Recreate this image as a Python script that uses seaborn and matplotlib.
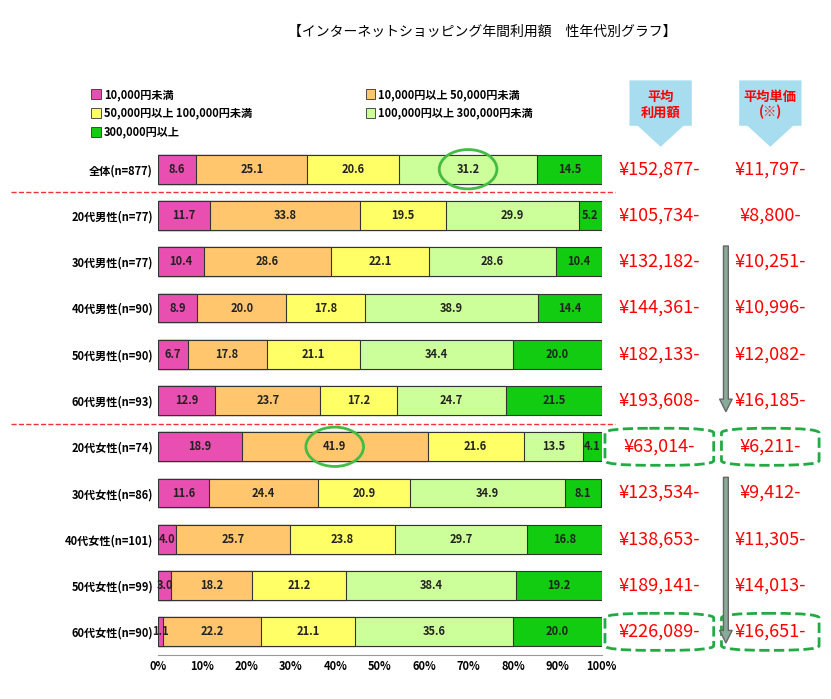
import matplotlib
matplotlib.use("Agg")
import matplotlib.pyplot as plt
import seaborn as sns
import numpy as np
import pandas as pd
from matplotlib.patches import Ellipse, FancyBboxPatch, Polygon

plt.rcParams["font.family"] = "Noto Sans CJK JP"

categories = ["全体(n=877)", "20代男性(n=77)", "30代男性(n=77)", "40代男性(n=90)", "50代男性(n=90)",
              "60代男性(n=93)", "20代女性(n=74)", "30代女性(n=86)", "40代女性(n=101)", "50代女性(n=99)",
              "60代女性(n=90)"]
series_names = ["10,000円未満", "10,000円以上 50,000円未満", "50,000円以上 100,000円未満",
                "100,000円以上 300,000円未満", "300,000円以上"]
s1 = [8.6, 11.7, 10.4, 8.9, 6.7, 12.9, 18.9, 11.6, 4.0, 3.0, 1.1]
s2 = [25.1, 33.8, 28.6, 20.0, 17.8, 23.7, 41.9, 24.4, 25.7, 18.2, 22.2]
s3 = [20.6, 19.5, 22.1, 17.8, 21.1, 17.2, 21.6, 20.9, 23.8, 21.2, 21.1]
s4 = [31.2, 29.9, 28.6, 38.9, 34.4, 24.7, 13.5, 34.9, 29.7, 38.4, 35.6]
s5 = [14.5, 5.2, 10.4, 14.4, 20.0, 21.5, 4.1, 8.1, 16.8, 19.2, 20.0]
avg_amount = ["¥152,877-", "¥105,734-", "¥132,182-", "¥144,361-", "¥182,133-", "¥193,608-",
              "¥63,014-", "¥123,534-", "¥138,653-", "¥189,141-", "¥226,089-"]
avg_price = ["¥11,797-", "¥8,800-", "¥10,251-", "¥10,996-", "¥12,082-", "¥16,185-",
             "¥6,211-", "¥9,412-", "¥11,305-", "¥14,013-", "¥16,651-"]
colors = ["#E84FB0", "#FFC66E", "#FFFF66", "#CCFF99", "#11CC11"]
series = [s1, s2, s3, s4, s5]

fig = plt.figure(figsize=(8.31, 6.99), dpi=100)
ax = fig.add_axes([0.19, 0.063, 0.534, 0.728])

vals = np.array(series)
cum = np.cumsum(vals, axis=0)
for i in range(4, -1, -1):
    df = pd.DataFrame({"cat": categories, "v": cum[i]})
    sns.barplot(data=df, x="v", y="cat", color=colors[i], orient="h", ax=ax,
                edgecolor="#333333", linewidth=0.8, width=0.62, saturation=1, label=series_names[i])

for i in range(5):
    for j in range(len(categories)):
        c = cum[i][j] - vals[i][j] / 2
        ax.text(c, j, f"{vals[i][j]:.1f}", ha="center", va="center", fontsize=8, fontweight="bold", color="#222222")

ax.set_xlim(0, 100)
ax.set_ylim(10.5, -0.5)
ax.set_xticks(range(0, 101, 10))
ax.set_xticklabels([f"{t}%" for t in range(0, 101, 10)], fontsize=8, fontweight="bold")
ax.set_yticks(range(len(categories)))
ax.set_yticklabels(categories, fontsize=8, fontweight="bold")
ax.set_xlabel(""); ax.set_ylabel("")
ax.tick_params(length=0)
for s in ["top", "right", "left"]:
    ax.spines[s].set_visible(False)
ax.spines["bottom"].set_color("#999999")
if ax.get_legend():
    ax.get_legend().remove()

ax.add_patch(Ellipse((cum[3][0] - vals[3][0] / 2, 0), 13, 0.85, fill=False, ec="#44BB44", lw=2, clip_on=False))
ax.add_patch(Ellipse((cum[1][6] - vals[1][6] / 2, 6), 13, 0.85, fill=False, ec="#44BB44", lw=2, clip_on=False))

for y in [0.5, 5.5]:
    ax.plot([-33, 103], [y, y], ls="--", color="#EE3333", lw=1, clip_on=False)

yt = ax.get_yaxis_transform()
for j in range(len(categories)):
    ax.text(1.13, j, avg_amount[j], transform=yt, ha="center", va="center", color="#FF0000", fontsize=13)
    ax.text(1.38, j, avg_price[j], transform=yt, ha="center", va="center", color="#FF0000", fontsize=13)

for j in [6, 10]:
    for xc, w in [(1.13, 0.245), (1.38, 0.22)]:
        ax.add_patch(FancyBboxPatch((xc - w / 2, j - 0.4), w, 0.8, boxstyle="round,pad=0,rounding_size=0.1",
                                    transform=yt, fill=False, ec="#22AA44", ls="--", lw=2, clip_on=False))

for y0, y1 in [(1.6, 5.3), (6.6, 10.3)]:
    ax.annotate("", xy=(1.28, y1), xytext=(1.28, y0), xycoords=yt,
                arrowprops=dict(arrowstyle="simple,head_width=0.9,head_length=0.9,tail_width=0.35",
                                fc="#88AA99", ec="#666666"))

fig.text(0.58, 0.955, "【インターネットショッピング年間利用額　性年代別グラフ】", ha="center", va="center", fontsize=10)
leg = [(0.11, 0.865, 0), (0.44, 0.865, 1), (0.11, 0.838, 2), (0.44, 0.838, 3), (0.11, 0.811, 4)]
for x, y, k in leg:
    fig.patches.append(plt.Rectangle((x, y - 0.007), 0.011, 0.014, transform=fig.transFigure,
                                     fc=colors[k], ec="#333333", lw=0.6))
    fig.text(x + 0.015, y, series_names[k], fontsize=8, fontweight="bold", va="center")

for xc, txt in [(0.795, "平均\n利用額"), (0.927, "平均単価\n(※)")]:
    w, top, mid, bot = 0.075, 0.885, 0.82, 0.79
    pts = [(xc - w / 2, top), (xc + w / 2, top), (xc + w / 2, mid), (xc + w / 2 - 0.01, mid),
           (xc, bot), (xc - w / 2 + 0.01, mid), (xc - w / 2, mid)]
    fig.patches.append(Polygon(pts, closed=True, transform=fig.transFigure, fc="#A8DDF0", ec="none"))
    fig.text(xc, 0.85, txt, ha="center", va="center", color="#FF0000", fontsize=9.5,
             fontweight="bold", linespacing=1.1)

fig.savefig("out.png", dpi=100, facecolor="white")
